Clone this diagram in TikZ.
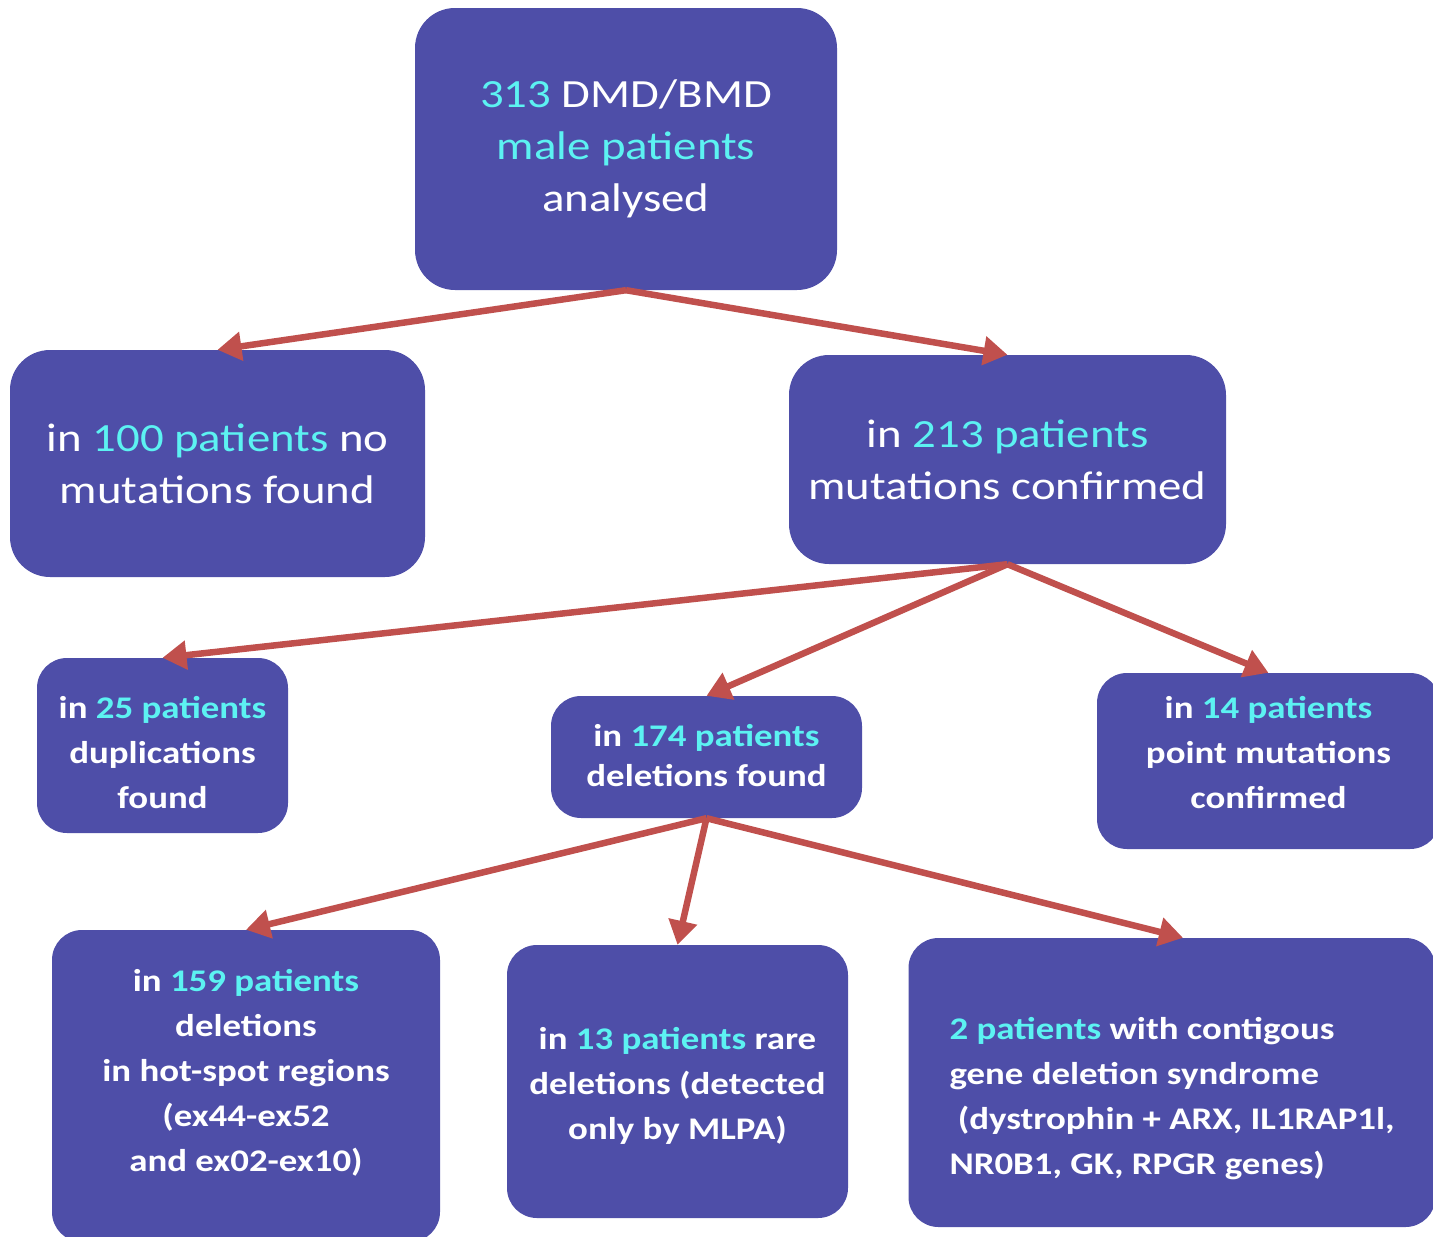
\documentclass[tikz,border=0pt]{standalone}
\usepackage{fontspec}
\setmainfont{Carlito}[FakeStretch=1.17]
\usetikzlibrary{arrows.meta}
\definecolor{boxblue}{HTML}{4E4EA8}
\definecolor{hlcyan}{HTML}{5CF2F2}
\definecolor{arrred}{HTML}{C0504D}
\newcommand{\hlt}[1]{\textcolor{hlcyan}{#1}}

\begin{document}
\begin{tikzpicture}[x=1pt, y=-1pt,
    big/.style={rectangle, rounded corners=40pt, fill=boxblue, text=white,
                align=center, inner sep=0pt,
                font=\fontsize{40}{52}\selectfont},
    small/.style={big, rounded corners=30pt,
                  font=\bfseries\fontsize{31.5}{45}\selectfont},
    arr/.style={-{Triangle[length=24pt, width=28pt]}, line width=6.5pt, arrred}
  ]
  \useasboundingbox (0,0) rectangle (1433,1237);

  % top level
  \node[big, minimum width=422, minimum height=282] (total) at (626,149)
    {\hlt{313} DMD/BMD\\ \hlt{male patients}\\ analysed};

  % second level
  \node[big, minimum width=415, minimum height=227] (nomut) at (217.5,463.5)
    {in \hlt{100 patients} no\\ mutations found};
  \node[big, minimum width=437, minimum height=209] (conf) at (1007.5,459.5)
    {in \hlt{213 patients}\\ mutations confirmed};

  % third level (text height/depth place the last line)
  \node[small, minimum width=251, minimum height=175,
        text height=125, text depth=0] (dup) at (162.5,745.5)
    {in \hlt{25 patients}\\ duplications\\ found};
  \node[small, minimum width=311, minimum height=122,
        text height=58, text depth=0,
        font=\bfseries\fontsize{31.5}{40}\selectfont] (del) at (706.5,757)
    {in \hlt{174 patients}\\ deletions found};
  \node[small, minimum width=343, minimum height=176,
        text height=94, text depth=0] (point) at (1268.5,761)
    {in \hlt{14 patients}\\ point mutations\\ confirmed};

  % fourth level
  \node[small, minimum width=388, minimum height=312,
        text height=170, text depth=0] (hot) at (246,1086)
    {in \hlt{159 patients}\\ deletions\\ in hot-spot regions\\ (ex44-ex52\\ and ex02-ex10)};
  \node[small, minimum width=341, minimum height=273,
        text height=115, text depth=0] (rare) at (677.5,1081.5)
    {in \hlt{13 patients} rare\\ deletions (detected\\ only by MLPA)};
  \node[small, align=left, minimum width=527, minimum height=289,
        text height=183, text depth=0] (contig) at (1172,1082.5)
    {\hlt{2 patients} with contigous\\ gene deletion syndrome\\ \ (dystrophin + ARX, IL1RAP1l,\\ NR0B1, GK, RPGR genes)};

  \draw[arr] (total.south) -- (nomut.north);
  \draw[arr] (total.south) -- (conf.north);
  \draw[arr] (conf.south) -- (dup.north);
  \draw[arr] (conf.south) -- (del.north);
  \draw[arr] (conf.south) -- (point.north);
  \draw[arr] (del.south) -- (hot.north);
  \draw[arr] (del.south) -- (rare.north);
  \draw[arr] (del.south) -- ([xshift=11]contig.north);
\end{tikzpicture}
\end{document}
